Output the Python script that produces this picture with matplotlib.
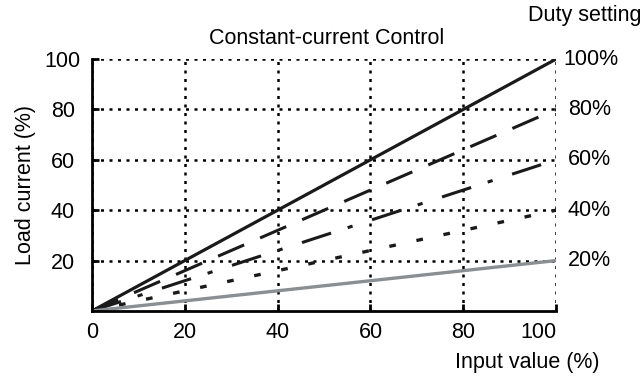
import numpy as np
import matplotlib.pyplot as plt

plt.rcParams['font.family'] = ['Liberation Sans', 'DejaVu Sans']

x_input = [0, 100]
duty = [100, 80, 60, 40, 20]
duty_labels = ['100%', '80%', '60%', '40%', '20%']
styles = [
    dict(color='#1a1a1a', ls='-', lw=2.3),
    dict(color='#1a1a1a', ls=(0, (9.3, 5.7)), lw=2.2),
    dict(color='#1a1a1a', ls=(0, (10, 5.7, 1.7, 6.7)), lw=2.2),
    dict(color='#1a1a1a', ls=(0, (2, 6.3)), lw=2.4),
    dict(color='#8a8f93', ls='-', lw=2.4),
]
fs = 15.5

fig = plt.figure(figsize=(6.43, 3.76), dpi=100)
ax = fig.add_axes([0.143, 0.173, 0.722, 0.670])

for d, st in zip(duty, styles):
    ax.plot(x_input, [0, d], solid_capstyle='butt', dash_capstyle='butt', **st)

ax.set_xlim(0, 100)
ax.set_ylim(0, 100)
ax.set_xticks([0, 20, 40, 60, 80, 100])
ax.set_yticks([20, 40, 60, 80, 100])
ax.grid(True, color='black', ls=(0, (1.2, 2.2)), lw=1.8)
ax.set_axisbelow(True)
ax.spines['top'].set_visible(False)
ax.spines['right'].set_visible(False)
ax.spines['left'].set_linewidth(2)
ax.spines['bottom'].set_linewidth(2)
ax.tick_params(direction='in', length=5, width=2, labelsize=fs, colors='black')
ax.tick_params(axis='y', pad=21)
ax.tick_params(axis='x', pad=8)
for t in ax.get_yticklabels():
    t.set_horizontalalignment('center')
xl = ax.get_xticklabels()
xl[-1].set_horizontalalignment('right')
xl[-1].set_x(99)

for d, lab in zip(duty, duty_labels):
    ax.text(101.5 if d == 100 else 102.5, d, lab, fontsize=fs, va='center', ha='left')

ax.set_ylabel('Load current (%)', fontsize=fs, labelpad=6)
fig.text(0.508, 0.897, 'Constant-current Control', fontsize=fs, ha='center', va='center')
fig.text(0.998, 0.958, 'Duty setting', fontsize=fs, ha='right', va='center')
fig.text(0.933, 0.035, 'Input value (%)', fontsize=fs, ha='right', va='center')

fig.savefig('out.png', dpi=100)
